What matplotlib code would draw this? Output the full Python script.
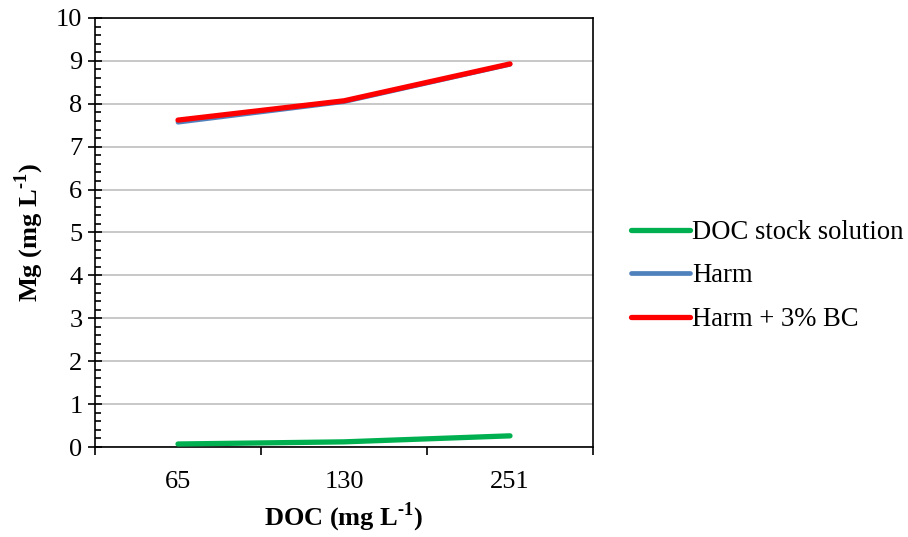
import matplotlib
matplotlib.use("Agg")
import matplotlib.pyplot as plt
from matplotlib.ticker import MultipleLocator, FixedLocator

###############################################################################
# Data
doc_levels = ["65", "130", "251"]
doc_stock = [0.07, 0.12, 0.26]
harm = [7.57, 8.05, 8.92]
harm_bc = [7.62, 8.07, 8.93]

###############################################################################
# Fonts: Times-like serif everywhere (mathtext only used for the bold "-1")
plt.rcParams["font.family"] = "Liberation Serif"
plt.rcParams["mathtext.fontset"] = "custom"
plt.rcParams["mathtext.rm"] = "Liberation Serif:bold"
plt.rcParams["mathtext.bf"] = "Liberation Serif:bold"

fig = plt.figure(figsize=(9.08, 5.37), dpi=100)
ax = fig.add_axes([95 / 908, 1 - 447 / 537, (593 - 95) / 908, (447 - 18) / 537])

x = list(range(len(doc_levels)))
ax.plot(x, doc_stock, color="#00B050", linewidth=3.8, solid_capstyle="round",
        label="DOC stock solution", zorder=3)
ax.plot(x, harm, color="#4F81BD", linewidth=3.4, solid_capstyle="round",
        label="Harm", zorder=3)
ax.plot(x, harm_bc, color="#FF0000", linewidth=3.8, solid_capstyle="round",
        label="Harm + 3% BC", zorder=4)

# Axes ranges and ticks
ax.set_xlim(-0.5, len(doc_levels) - 0.5)
ax.set_ylim(0, 10)
ax.set_xticks(x)
ax.set_xticklabels(doc_levels)
ax.xaxis.set_minor_locator(FixedLocator([i - 0.5 for i in range(len(doc_levels) + 1)]))
ax.tick_params(axis="x", which="major", length=0, labelsize=19, pad=17)
ax.tick_params(axis="x", which="minor", direction="out", length=6, width=1.2)
ax.yaxis.set_major_locator(MultipleLocator(1))
ax.yaxis.set_minor_locator(MultipleLocator(0.2))
ax.tick_params(axis="y", which="major", direction="inout", length=10, width=1.2,
               labelsize=19, pad=4)
ax.tick_params(axis="y", which="minor", direction="in", length=4, width=1.2)

ax.grid(axis="y", which="major", color="#BFBFBF", linewidth=1.2)
ax.set_axisbelow(True)
for side in ["left", "bottom", "top", "right"]:
    ax.spines[side].set_linewidth(1.2)

ax.set_xlabel(r"DOC (mg L$^{\text{-1}}$)", fontsize=19, fontweight="bold", labelpad=6)
ax.set_ylabel(r"Mg (mg L$^{\text{-1}}$)", fontsize=19, fontweight="bold", labelpad=7)

fig.legend(loc="center left", bbox_to_anchor=(631 / 908, 1 - 276 / 537), frameon=False,
           fontsize=19.2, handlelength=2.2, handletextpad=0.1, labelspacing=0.7,
           borderaxespad=0, borderpad=0)

fig.savefig("out.png", dpi=100)
